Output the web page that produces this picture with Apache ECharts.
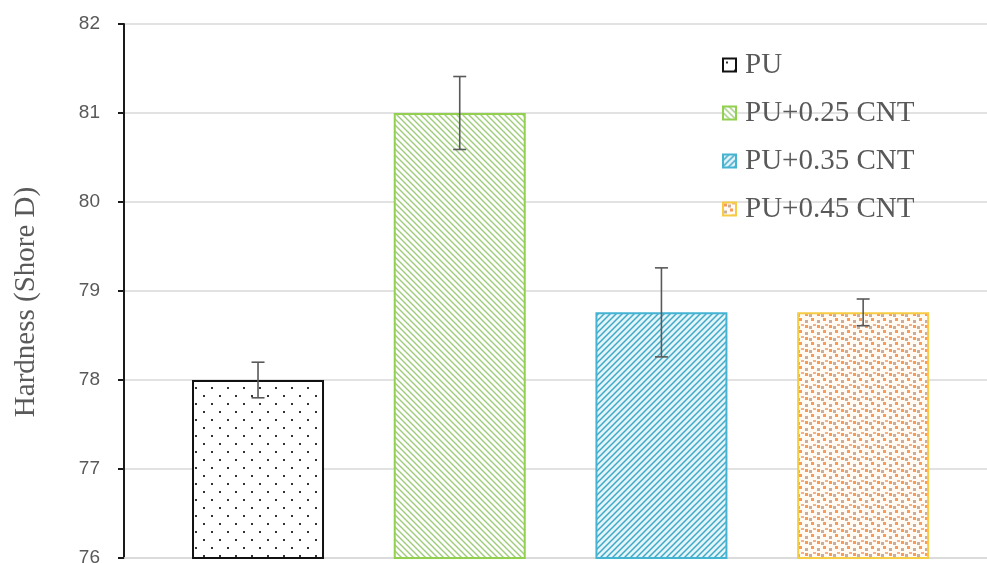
<!DOCTYPE html>
<html>
<head>
<meta charset="utf-8">
<script src="https://cdn.jsdelivr.net/npm/echarts@6/dist/echarts.min.js"></script>
<style>html,body{margin:0;padding:0;background:#fff;}#chart{width:987px;height:563px;}</style>
</head>
<body>
<div id="chart"></div>
<script>
var categories = ['PU', 'PU+0.25 CNT', 'PU+0.35 CNT', 'PU+0.45 CNT'];
var hardness = [78.0, 81.0, 78.76, 78.76];
var errors = [0.2, 0.41, 0.5, 0.15];
var yTicks = [76, 77, 78, 79, 80, 81, 82];

function tile(size, draw) {
  var c = document.createElement('canvas');
  c.width = size; c.height = size;
  var ctx = c.getContext('2d');
  draw(ctx, size);
  return c;
}
var dotTile = tile(16, function (ctx) {
  ctx.fillStyle = '#fff'; ctx.fillRect(0, 0, 16, 16);
  ctx.fillStyle = '#333';
  ctx.fillRect(3, 3, 2, 2);
  ctx.fillRect(11, 11, 2, 2);
});
var greenTile = tile(6, function (ctx, n) {
  ctx.fillStyle = '#fff'; ctx.fillRect(0, 0, n, n);
  ctx.strokeStyle = '#9fcc7a'; ctx.lineWidth = 1.4;
  ctx.beginPath();
  ctx.moveTo(-1, -1); ctx.lineTo(n + 1, n + 1);
  ctx.moveTo(-1, n - 1); ctx.lineTo(1, n + 1);
  ctx.moveTo(n - 1, -1); ctx.lineTo(n + 1, 1);
  ctx.stroke();
});
var blueTile = tile(6, function (ctx, n) {
  ctx.fillStyle = '#e3f5fa'; ctx.fillRect(0, 0, n, n);
  ctx.strokeStyle = '#3fa9c6'; ctx.lineWidth = 1.5;
  ctx.beginPath();
  ctx.moveTo(-1, n + 1); ctx.lineTo(n + 1, -1);
  ctx.moveTo(-1, 1); ctx.lineTo(1, -1);
  ctx.moveTo(n - 1, n + 1); ctx.lineTo(n + 1, n - 1);
  ctx.stroke();
});
var orangeTile = tile(12, function (ctx) {
  ctx.fillStyle = '#fffaf2'; ctx.fillRect(0, 0, 12, 12);
  ctx.fillStyle = '#f79a5a';
  ctx.fillRect(1, 1, 3, 3); ctx.fillRect(7, 6, 3, 3);
  ctx.fillStyle = '#c9aea0';
  ctx.fillRect(5, 2, 3, 3); ctx.fillRect(1, 8, 3, 3);
  ctx.fillStyle = '#f6b088';
  ctx.fillRect(9, 0, 3, 2);
});
var fills = [dotTile, greenTile, blueTile, orangeTile];
var borders = ['#111111', '#92d050', '#45b3d2', '#f6cc45'];

var series = categories.map(function (name, i) {
  return {
    name: name,
    type: 'bar',
    barWidth: 132,
    barGap: '-100%',
    data: [[i, hardness[i]]],
    itemStyle: {
      color: { image: fills[i], repeat: 'repeat' },
      borderColor: borders[i],
      borderWidth: 2
    },
    emphasis: { disabled: true },
    silent: true,
    z: 2
  };
});
series.push({
  type: 'custom',
  name: 'err',
  silent: true,
  z: 5,
  data: hardness.map(function (v, i) { return [i, v - errors[i], v + errors[i]]; }),
  renderItem: function (params, api) {
    var lo = api.coord([api.value(0), api.value(1)]);
    var hi = api.coord([api.value(0), api.value(2)]);
    var half = 6.5;
    var style = { stroke: '#595959', lineWidth: 1.6 };
    return {
      type: 'group',
      children: [
        { type: 'line', shape: { x1: hi[0], y1: hi[1], x2: lo[0], y2: lo[1] }, style: style },
        { type: 'line', shape: { x1: hi[0] - half, y1: hi[1], x2: hi[0] + half, y2: hi[1] }, style: style },
        { type: 'line', shape: { x1: lo[0] - half, y1: lo[1], x2: lo[0] + half, y2: lo[1] }, style: style }
      ]
    };
  }
});

var chart = echarts.init(document.getElementById('chart'), null, { renderer: 'canvas' });
chart.setOption({
  animation: false,
  backgroundColor: '#fff',
  grid: { left: 124, right: 0, top: 24, bottom: 5, containLabel: false, outerBoundsMode: 'none' },
  legend: {
    data: categories,
    orient: 'vertical',
    left: 717,
    top: 45,
    icon: 'rect',
    itemWidth: 13,
    itemHeight: 13,
    itemGap: 18,
    textStyle: { fontFamily: 'Liberation Serif', fontSize: 29, lineHeight: 30, color: '#595959', padding: [0, 0, 0, 4] },
    selectedMode: false
  },
  xAxis: {
    type: 'value',
    min: -0.6644,
    max: 3.614,
    axisLine: { show: true, onZero: false, lineStyle: { color: '#d9d9d9', width: 1.5 } },
    axisTick: { show: false },
    axisLabel: { show: false },
    splitLine: { show: false }
  },
  yAxis: {
    type: 'value',
    min: yTicks[0],
    max: yTicks[yTicks.length - 1],
    interval: 1,
    name: 'Hardness (Shore D)',
    nameLocation: 'middle',
    nameGap: 83,
    nameTextStyle: { fontFamily: 'Liberation Serif', fontSize: 29, color: '#595959', padding: [0, 22, 0, 0] },
    axisLine: { show: true, onZero: false, lineStyle: { color: '#1a1a1a', width: 2 } },
    axisTick: { show: true, length: 6, lineStyle: { color: '#1a1a1a', width: 2 } },
    axisLabel: { margin: 24, fontFamily: 'Liberation Sans', fontSize: 19, color: '#595959' },
    splitLine: { show: true, lineStyle: { color: '#d9d9d9', width: 1.5 } }
  },
  series: series
});
</script>
</body>
</html>
